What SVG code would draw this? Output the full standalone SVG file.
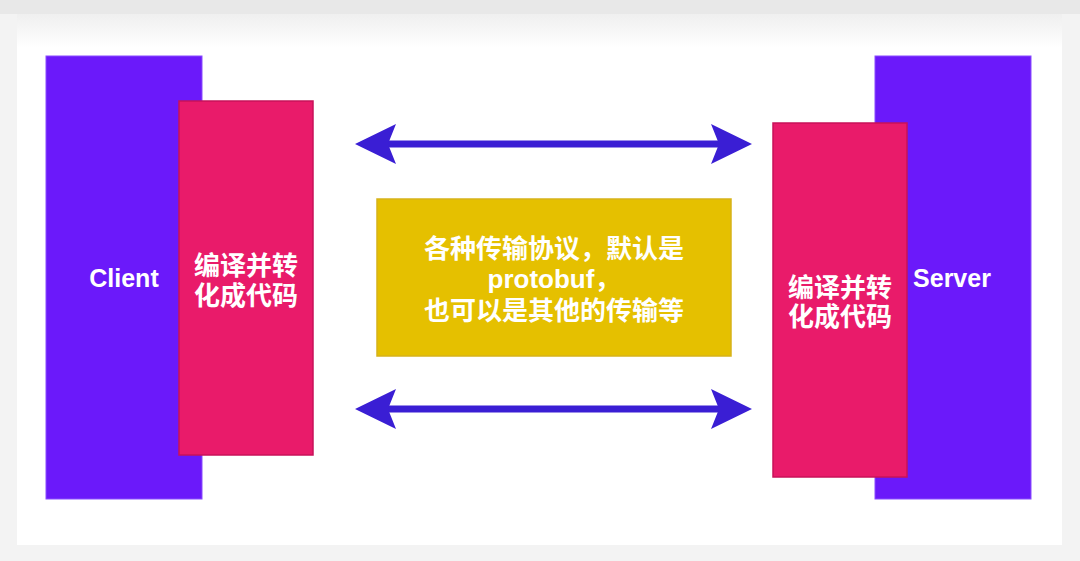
<svg xmlns="http://www.w3.org/2000/svg" width="1080" height="561" viewBox="0 0 1080 561">
  <style>
    .host { fill: #6b19fa; stroke: #8a4cff; stroke-width: 1; }
    .codec { fill: #e91b6a; stroke: #c8125a; stroke-width: 1.5; }
    .proto { fill: #e5c000; stroke: #d6b21a; stroke-width: 1.5; }
    .lbl { font-family: "Liberation Sans", "Noto Sans CJK SC", sans-serif; font-weight: bold; fill: #ffffff; text-anchor: middle; }
    .link { stroke: #3a1ed4; stroke-width: 7; fill: none; }
  </style>
  <defs>
    <linearGradient id="topfade" x1="0" y1="0" x2="0" y2="1">
      <stop offset="0" stop-color="#efefef"/>
      <stop offset="1" stop-color="#ffffff"/>
    </linearGradient>
    <marker id="head" markerUnits="userSpaceOnUse" viewBox="-10 -22 46 44" refX="0" refY="0" markerWidth="46" markerHeight="44" orient="auto-start-reverse" overflow="visible">
      <path d="M33,0 L-8,-20 L0,0 L-8,20 Z" fill="#3a1ed4"/>
    </marker>
  </defs>

  <g id="background">
    <rect x="0" y="0" width="1080" height="561" fill="#f3f3f3"/>
    <rect x="0" y="0" width="1080" height="14" fill="#e8e8e8"/>
    <rect x="17" y="14" width="1045" height="531" fill="#ffffff"/>
    <rect x="17" y="14" width="1045" height="34" fill="url(#topfade)"/>
  </g>

  <g id="client">
    <rect class="host" x="46" y="56" width="156" height="443"/>
    <text class="lbl" x="124" y="287" font-size="25">Client</text>
  </g>

  <g id="client-codec">
    <rect class="codec" x="179" y="101" width="134" height="354"/>
    <text class="lbl" x="246" y="275" font-size="26">编译并转</text>
    <text class="lbl" x="246" y="305" font-size="26">化成代码</text>
  </g>

  <g id="server">
    <rect class="host" x="875" y="56" width="156" height="443"/>
    <text class="lbl" x="952" y="287" font-size="25">Server</text>
  </g>

  <g id="server-codec">
    <rect class="codec" x="773" y="123" width="134" height="354"/>
    <text class="lbl" x="840" y="297" font-size="26">编译并转</text>
    <text class="lbl" x="840" y="326" font-size="26">化成代码</text>
  </g>

  <g id="transport">
    <rect class="proto" x="377" y="199" width="354" height="157"/>
    <text class="lbl" x="554" y="258" font-size="26">各种传输协议，默认是</text>
    <text class="lbl" x="554" y="288" font-size="26">protobuf，</text>
    <text class="lbl" x="554" y="320" font-size="26">也可以是其他的传输等</text>
  </g>

  <g id="connectors">
    <line class="link" x1="388" y1="144" x2="719" y2="144" marker-start="url(#head)" marker-end="url(#head)"/>
    <line class="link" x1="388" y1="409" x2="719" y2="409" marker-start="url(#head)" marker-end="url(#head)"/>
  </g>
</svg>
